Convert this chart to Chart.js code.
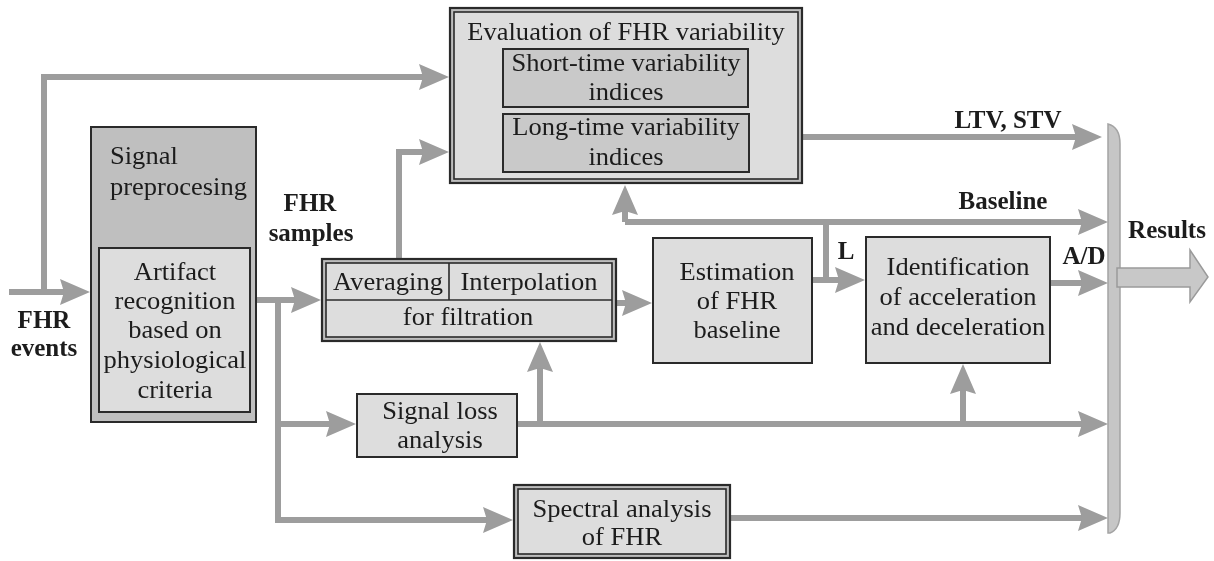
<!DOCTYPE html>
<html>
<head>
<meta charset="utf-8">
<script src="https://cdn.jsdelivr.net/npm/chart.js@4"></script>
<style>
html,body{margin:0;padding:0;background:#fff;}
#c{display:block;}
</style>
</head>
<body>
<canvas id="c" width="1214" height="561"></canvas>
<script>
// ---- diagram data (diagram units: x 0..1214, y 0..561 top-down) ----
const nodeNames  = ['eval','short','long','sigpre','artifact','avg','sigloss','spectral','estim','ident'];
const nodeLeft   = [449, 502, 502,  90,  98, 321, 356, 513, 652, 865];
const nodeTop    = [  7,  48, 113, 126, 247, 258, 393, 484, 237, 236];
const nodeRight  = [803, 749, 750, 257, 251, 617, 518, 731, 813, 1051];
const nodeBottom = [184, 108, 173, 423, 413, 342, 458, 559, 364, 364];
const nodeDouble = [true,false,false,false,false,true,false,true,false,false];
const nodeShade  = ['light','mid','mid','dark','light','light','light','light','light','light'];

// connectors: polylines, arrow at last point when flagged
const linkPoints = [
  [[9,292],[90,292]],
  [[44,295],[44,77],[449,77]],
  [[257,300],[321,300]],
  [[278,300],[278,520],[513,520]],
  [[278,424],[356,424]],
  [[399,263],[399,152],[449,152]],
  [[617,303],[652,303]],
  [[518,424],[1108,424]],
  [[540,424],[540,342]],
  [[963,424],[963,364]],
  [[813,280],[865,280]],
  [[826,283],[826,222]],
  [[625,222],[1108,222]],
  [[625,222],[625,185]],
  [[803,137],[1102,137]],
  [[1051,283],[1108,283]],
  [[731,518],[1108,518]]
];
const linkArrow = [true,true,true,true,true,true,true,true,true,true,true,false,true,true,true,true,true];

// texts
const textLines  = ['Evaluation of FHR variability','Short-time variability','indices','Long-time variability','indices',
  'Signal','preprocesing','Artifact','recognition','based on','physiological','criteria',
  'Averaging','Interpolation','for filtration','Signal loss','analysis','Spectral analysis','of FHR',
  'Estimation','of FHR','baseline','Identification','of acceleration','and deceleration'];
const textX = [626,626,626,626,626, 110,110, 175,175,175,175,175, 388,529,468, 440,440, 622,622, 737,737,737, 958,958,958];
const textY = [33,64,93,128,158, 157,188, 273,302,331,361,391, 283,283,318, 412,441, 510,538, 273,302,331, 268,298,328];
const textLeftAligned = [false,false,false,false,false, true,true, false,false,false,false,false, false,false,false, false,false, false,false, false,false,false, false,false,false];

const boldLines = ['FHR','events','FHR','samples','LTV, STV','Baseline','L','A/D','Results'];
const boldX = [44,44,310,311,1008,1003,846,1084,1167];
const boldY = [322,350,205,235,122,203,253,258,232];

// ---- styles ----
const ARROW = '#9d9d9d';
const INK = '#1c1c1c';
const SHADES = {light:'#dddddd', mid:'#c9c9c9', dark:'#bfbfbf'};
const BAND = '#bdbdbd';
const HEAD_LEN = 30, HEAD_HALF = 13, HEAD_NOTCH = 4;
const SERIF = '"Liberation Serif", "Times New Roman", Times, serif';

function shortenEnd(pts, arrow){
  const p = pts.map(q => ({x:q[0], y:q[1]}));
  if (arrow) {
    const a = p[p.length-2], b = p[p.length-1];
    const dx = b.x-a.x, dy = b.y-a.y, L = Math.hypot(dx,dy);
    p[p.length-1] = {x: b.x - dx/L*(HEAD_LEN-HEAD_NOTCH-1), y: b.y - dy/L*(HEAD_LEN-HEAD_NOTCH-1)};
  }
  return p;
}

const datasets = linkPoints.map((pts,i) => ({
  data: shortenEnd(pts, linkArrow[i]),
  showLine: true,
  borderColor: ARROW,
  backgroundColor: ARROW,
  borderWidth: 6,
  pointRadius: 0,
  borderCapStyle: 'butt',
  borderJoinStyle: 'miter',
  tension: 0
}));

function px(chart, x, y){
  return [chart.scales.x.getPixelForValue(x), chart.scales.y.getPixelForValue(y)];
}

function drawText(ctx, str, x, y, font, sx, align){
  ctx.save();
  ctx.font = font;
  ctx.fillStyle = INK;
  ctx.textBaseline = 'middle';
  ctx.translate(x, y);
  ctx.scale(sx, 1);
  ctx.textAlign = align;
  ctx.fillText(str, 0, 0);
  ctx.restore();
}

const diagramPlugin = {
  id: 'diagram',
  beforeDatasetsDraw(chart){
    const ctx = chart.ctx;
    const [l1,t1] = px(chart,1108,124);
    const [r1,b1] = px(chart,1120,533);
    ctx.save();
    ctx.beginPath();
    ctx.moveTo(l1, t1);
    ctx.quadraticCurveTo(r1, t1+3, r1, t1+20);
    ctx.lineTo(r1, b1-20);
    ctx.quadraticCurveTo(r1, b1-4, l1+2, b1);
    ctx.lineTo(l1, b1);
    ctx.closePath();
    ctx.fillStyle = '#c6c6c6';
    ctx.fill();
    ctx.strokeStyle = '#a4a4a4';
    ctx.lineWidth = 1.5;
    ctx.stroke();
    const S = (x,y)=>px(chart,x,y);
    const pts = [S(1117,268),S(1190,268),S(1190,250),S(1208,277),S(1190,302),S(1190,287),S(1117,287)];
    ctx.beginPath();
    pts.forEach((p,i)=> i?ctx.lineTo(p[0],p[1]):ctx.moveTo(p[0],p[1]));
    ctx.closePath();
    ctx.fillStyle = '#c8c8c8';
    ctx.fill();
    ctx.strokeStyle = '#9a9a9a';
    ctx.lineWidth = 1.5;
    ctx.stroke();
    ctx.restore();
  },
  afterDatasetsDraw(chart){
    const ctx = chart.ctx;
    linkPoints.forEach((pts,i)=>{
      if(!linkArrow[i]) return;
      const a = px(chart, pts[pts.length-2][0], pts[pts.length-2][1]);
      const b = px(chart, pts[pts.length-1][0], pts[pts.length-1][1]);
      const dx=b[0]-a[0], dy=b[1]-a[1], L=Math.hypot(dx,dy);
      const ux=dx/L, uy=dy/L, nx=-uy, ny=ux;
      const bx=b[0]-ux*HEAD_LEN, by=b[1]-uy*HEAD_LEN;
      ctx.save();
      ctx.beginPath();
      ctx.moveTo(b[0],b[1]);
      ctx.lineTo(bx+nx*HEAD_HALF, by+ny*HEAD_HALF);
      ctx.lineTo(bx+ux*HEAD_NOTCH, by+uy*HEAD_NOTCH);
      ctx.lineTo(bx-nx*HEAD_HALF, by-ny*HEAD_HALF);
      ctx.closePath();
      ctx.fillStyle = ARROW;
      ctx.fill();
      ctx.restore();
    });
    nodeNames.forEach((n,i)=>{
      const [x0,y0]=px(chart,nodeLeft[i],nodeTop[i]);
      const [x1,y1]=px(chart,nodeRight[i],nodeBottom[i]);
      ctx.save();
      ctx.strokeStyle = '#2a2a2a';
      if(nodeDouble[i]){
        ctx.fillStyle = BAND;
        ctx.fillRect(x0,y0,x1-x0,y1-y0);
        ctx.lineWidth = 2.2;
        ctx.strokeRect(x0+1,y0+1,x1-x0-2,y1-y0-2);
        ctx.fillStyle = SHADES[nodeShade[i]];
        ctx.fillRect(x0+5,y0+5,x1-x0-10,y1-y0-10);
        ctx.lineWidth = 1.6;
        ctx.strokeRect(x0+5,y0+5,x1-x0-10,y1-y0-10);
      } else {
        ctx.fillStyle = SHADES[nodeShade[i]];
        ctx.fillRect(x0,y0,x1-x0,y1-y0);
        ctx.lineWidth = 2;
        ctx.strokeRect(x0+1,y0+1,x1-x0-2,y1-y0-2);
      }
      ctx.restore();
    });
    const ai = nodeNames.indexOf('avg');
    ctx.save();
    ctx.strokeStyle = '#2a2a2a';
    ctx.lineWidth = 1.6;
    const [dx0,dy0] = px(chart, nodeLeft[ai]+5, 300);
    const [dx1] = px(chart, nodeRight[ai]-5, 300);
    ctx.beginPath(); ctx.moveTo(dx0,dy0); ctx.lineTo(dx1,dy0); ctx.stroke();
    const [vx,vy0] = px(chart, 449, nodeTop[ai]+5);
    ctx.beginPath(); ctx.moveTo(vx,vy0); ctx.lineTo(vx,dy0); ctx.stroke();
    ctx.restore();
    textLines.forEach((s,i)=>{
      const [x,y]=px(chart,textX[i],textY[i]);
      drawText(ctx, s, x, y, '26px ' + SERIF, 1.02, textLeftAligned[i]?'left':'center');
    });
    boldLines.forEach((s,i)=>{
      const [x,y]=px(chart,boldX[i],boldY[i]);
      drawText(ctx, s, x, y, 'bold 25px ' + SERIF, 1.0, 'center');
    });
  }
};

function build(){
  new Chart(document.getElementById('c'), {
    type: 'scatter',
    data: { datasets },
    options: {
      responsive: false,
      devicePixelRatio: 1,
      animation: false,
      layout: { padding: 0 },
      plugins: { legend: {display:false}, tooltip: {enabled:false} },
      scales: {
        x: { type:'linear', min:0, max:1214, display:false },
        y: { type:'linear', min:0, max:561, reverse:true, display:false }
      }
    },
    plugins: [diagramPlugin]
  });
}
Promise.all([
  document.fonts.load('26px "Liberation Serif"'),
  document.fonts.load('bold 25px "Liberation Serif"')
]).then(build, build);
</script>
</body>
</html>
